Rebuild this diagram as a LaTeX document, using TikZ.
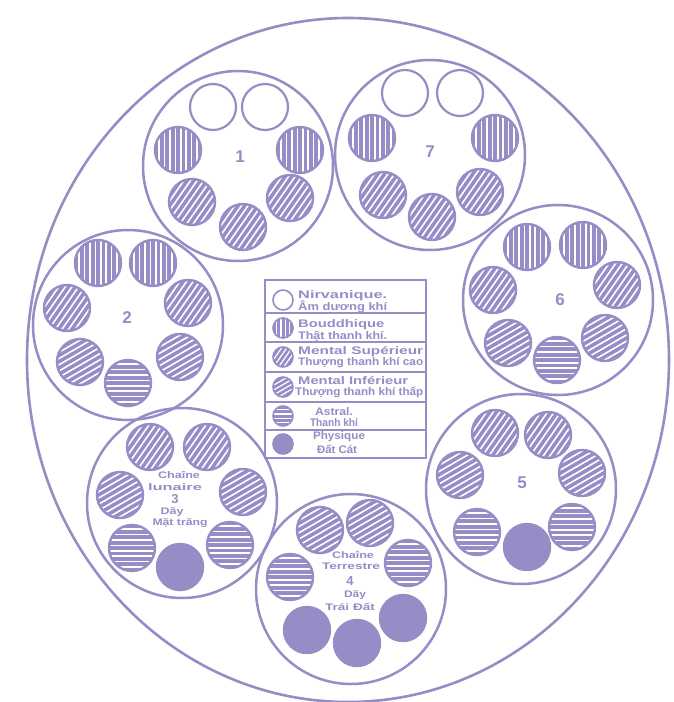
\documentclass[tikz,border=0pt]{standalone}
\usepackage{graphicx}
\usepackage{fontspec}
\setmainfont{Liberation Sans}
\definecolor{pc}{RGB}{150,140,198}
\newcommand{\hatchfill}[6]{% x y angle radius step linewidth
  \begin{scope}
    \clip (#1,#2) circle [radius=#4];
    \fill[pc] (#1,#2) circle [radius=#4];
    \foreach \i in {-7,...,7}{
      \pgfmathsetmacro{\kk}{(\i+0.5)*#5}
      \draw[white, line width=#6]
        ({#1+(\kk)*sin(#3)+40*cos(#3)},{#2+(\kk)*cos(#3)-40*sin(#3)}) --
        ({#1+(\kk)*sin(#3)-40*cos(#3)},{#2+(\kk)*cos(#3)+40*sin(#3)});
    }
  \end{scope}}
\newcommand{\globeH}[4]{\hatchfill{#2}{#3}{#4}{23}{5.4}{1.6pt}\node[gbase] (#1) at (#2,#3) {};}
\newcommand{\globeN}[3]{\node[gbase, line width=2.2pt, fill=white] (#1) at (#2,#3) {};}
\newcommand{\globeP}[3]{\node[gbase, fill=pc] (#1) at (#2,#3) {};}
\newcommand{\symH}[4]{\hatchfill{#2}{#3}{#4}{10}{4.2}{1.2pt}\node[sbase] (#1) at (#2,#3) {};}
\newcommand{\fitw}[2]{\resizebox{#1pt}{\height}{#2}}
\begin{document}
\begin{tikzpicture}[x=1pt,y=-1pt,
  chain/.style={circle, draw=pc, line width=2.5pt, minimum size=190pt, inner sep=0pt},
  gbase/.style={circle, draw=pc, line width=2.4pt, minimum size=46pt, inner sep=0pt},
  sbase/.style={circle, draw=pc, line width=1.6pt, minimum size=20pt, inner sep=0pt},
  lbl/.style={text=pc, inner sep=0pt, font=\bfseries\fontsize{11}{11}\selectfont},
  clbl/.style={text=pc, inner sep=0pt, font=\bfseries\fontsize{9.5}{9.5}\selectfont},
  num/.style={text=pc, inner sep=0pt, font=\bfseries\fontsize{17}{17}\selectfont},
  snum/.style={text=pc, inner sep=0pt, font=\bfseries\fontsize{13}{13}\selectfont},
]
\useasboundingbox (0,0) rectangle (673,702);
\fill[white] (0,0) rectangle (673,702);
% outer boundary
\draw[pc, line width=2.6pt] (348,360) ellipse [x radius=321, y radius=342];

% chains
\node[chain] (c1) at (238,166) {};
\node[chain] (c7) at (430,155) {};
\node[chain] (c2) at (128,325) {};
\node[chain] (c6) at (558,300) {};
\node[chain] (c3) at (182,503) {};
\node[chain] (c5) at (521,489) {};
\node[chain] (c4) at (351,589) {};

% chain 1
\globeN{c1a}{213}{107}
\globeN{c1g}{265}{107}
\globeH{c1b}{178}{150}{90}
\globeH{c1f}{300}{150}{90}
\globeH{c1c}{192}{202}{55}
\globeH{c1e}{290}{198}{55}
\globeH{c1d}{243}{227}{55}
\node[num] (n1) at (240,157) {1};
% chain 7
\globeN{c7a}{405}{93}
\globeN{c7g}{460}{93}
\globeH{c7b}{372}{138}{90}
\globeH{c7f}{495}{138}{90}
\globeH{c7c}{383}{195}{55}
\globeH{c7e}{480}{192}{55}
\globeH{c7d}{432}{217}{55}
\node[num] (n7) at (430,152) {7};
% chain 2
\globeH{c2a}{98}{263}{90}
\globeH{c2g}{153}{263}{90}
\globeH{c2b}{67}{308}{55}
\globeH{c2f}{188}{303}{55}
\globeH{c2c}{80}{362}{30}
\globeH{c2e}{180}{357}{30}
\globeH{c2d}{128}{383}{0}
\node[num] (n2) at (127,318) {2};
% chain 6
\globeH{c6a}{527}{247}{90}
\globeH{c6g}{583}{245}{90}
\globeH{c6b}{493}{290}{55}
\globeH{c6f}{617}{285}{55}
\globeH{c6c}{508}{343}{30}
\globeH{c6e}{605}{338}{30}
\globeH{c6d}{557}{360}{0}
\node[num] (n6) at (560,300) {6};
% chain 3 (lunaire)
\globeH{c3a}{150}{447}{55}
\globeH{c3g}{207}{447}{55}
\globeH{c3b}{120}{495}{30}
\globeH{c3f}{243}{492}{30}
\globeH{c3c}{132}{548}{0}
\globeH{c3e}{230}{545}{0}
\globeP{c3d}{180}{567}
\node[clbl] (t3a) at (179,475) {\fitw{42}{Chaîne}};
\node[clbl] (t3b) at (175,487) {\fitw{54}{lunaire}};
\node[snum] (t3c) at (175,499) {3};
\node[clbl] (t3d) at (172,512) {\fitw{23}{Dãy}};
\node[clbl] (t3e) at (180,523) {\fitw{55}{Mặt trăng}};
% chain 5
\globeH{c5a}{495}{433}{55}
\globeH{c5g}{548}{435}{55}
\globeH{c5b}{460}{475}{30}
\globeH{c5f}{582}{473}{30}
\globeH{c5c}{477}{532}{0}
\globeH{c5e}{572}{527}{0}
\globeP{c5d}{527}{547}
\node[num] (n5) at (522,483) {5};
% chain 4 (terrestre)
\globeH{c4a}{320}{530}{30}
\globeH{c4g}{370}{523}{30}
\globeH{c4b}{290}{577}{0}
\globeH{c4f}{408}{563}{0}
\globeP{c4c}{307}{630}
\globeP{c4e}{403}{618}
\globeP{c4d}{357}{643}
\node[clbl] (t4a) at (353,555) {\fitw{42}{Chaîne}};
\node[clbl] (t4b) at (351,566) {\fitw{58}{Terrestre}};
\node[snum] (t4c) at (350,581) {4};
\node[clbl] (t4d) at (355,595) {\fitw{22}{Dãy}};
\node[clbl] (t4e) at (350,607) {\fitw{50}{Trái Đất}};

% legend
\draw[pc, line width=1.8pt] (265,280) rectangle (426,458);
\foreach \yy in {313,342,372,402,430} \draw[pc, line width=1.8pt] (265,\yy) -- (426,\yy);
\node[sbase, fill=white] (s1) at (283,300) {};
\symH{s2}{283}{328}{90}
\symH{s3}{283}{357}{55}
\symH{s4}{283}{387}{30}
\symH{s5}{283}{416}{0}
\node[sbase, fill=pc] (s6) at (283,444) {};
\node[lbl, anchor=west] (l1a) at (298,296) {\fitw{89}{Nirvanique.}};
\node[lbl, anchor=west] (l1b) at (298,307) {\fitw{89}{Âm dương khí}};
\node[lbl, anchor=west] (l2a) at (298,325) {\fitw{86}{Bouddhique}};
\node[lbl, anchor=west] (l2b) at (298,336) {\fitw{89}{Thật thanh khí.}};
\node[lbl, anchor=west] (l3a) at (298,352) {\fitw{125}{Mental Supérieur}};
\node[lbl, anchor=west] (l3b) at (298,363) {\fitw{125}{Thượng thanh khí cao}};
\node[lbl, anchor=west] (l4a) at (298,381) {\fitw{110}{Mental Inférieur}};
\node[lbl, anchor=west] (l4b) at (295,392) {\fitw{128}{Thượng thanh khí thấp}};
\node[lbl] (l5a) at (334,412) {\fitw{38}{Astral.}};
\node[lbl] (l5b) at (334,423) {\fitw{48}{Thanh khí}};
\node[lbl] (l6a) at (339,437) {\fitw{52}{Physique}};
\node[lbl] (l6b) at (337,449) {\fitw{40}{Đất Cát}};
\end{tikzpicture}
\end{document}
